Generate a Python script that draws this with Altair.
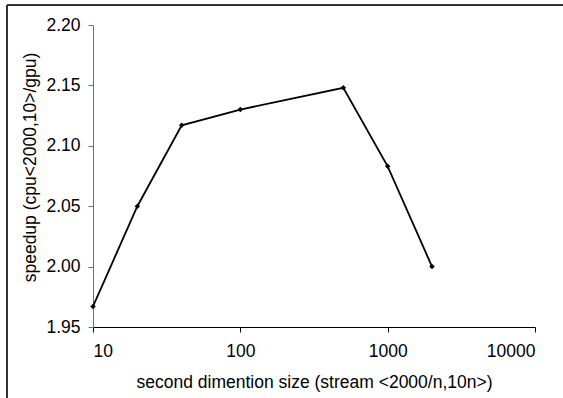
import altair as alt
import pandas as pd

sizes = [10, 20, 40, 100, 500, 1000, 2000]
speedup = [1.967, 2.050, 2.117, 2.130, 2.148, 2.083, 2.000]
x_ticks = [10, 100, 1000, 10000]
y_ticks = [1.95, 2.00, 2.05, 2.10, 2.15, 2.20]

df = pd.DataFrame({"size": sizes, "speedup": speedup})
FONT = "Liberation Sans"

x_enc = alt.X(
    "size:Q",
    scale=alt.Scale(type="log", domain=[10, 10000], nice=False),
    axis=alt.Axis(
        title="second dimention size (stream <2000/n,10n>)",
        values=x_ticks, format="d", grid=False,
        domainColor="#000000", tickColor="#000000", tickSize=5,
        labelPadding=10, labelFontSize=17.5, labelColor="#000000", labelFont=FONT,
        titleFontSize=17.5, titleFontWeight="normal", titleFont=FONT, titleColor="#000000",
        titleY=55, titleBaseline="middle",
    ),
)
y_enc = alt.Y(
    "speedup:Q",
    scale=alt.Scale(domain=[1.95, 2.20], nice=False, zero=False),
    axis=alt.Axis(
        title="speedup (cpu<2000,10>/gpu)",
        values=y_ticks, format=".2f", grid=False,
        domainColor="#707070", tickColor="#707070", tickSize=5,
        labelPadding=8, labelFontSize=17.5, labelColor="#000000", labelFont=FONT,
        titleFontSize=17.5, titleFontWeight="normal", titleFont=FONT, titleColor="#000000",
        titleAngle=270, titleX=-63, titleY=142, titleAlign="center", titleBaseline="middle",
    ),
)

line = alt.Chart(df).mark_line(color="#000000", strokeWidth=1.8).encode(x=x_enc, y=y_enc)
pts = alt.Chart(df).mark_point(shape="diamond", filled=True, color="#000000", size=30, opacity=1).encode(
    x="size:Q", y="speedup:Q"
)

frame_left = alt.Chart(df).mark_rule(color="#333333", strokeWidth=2).encode(
    x=alt.value(-86), y=alt.value(-20), y2=alt.value(373)
)
frame_top = alt.Chart(df).mark_rule(color="#333333", strokeWidth=2).encode(
    x=alt.value(-86), x2=alt.value(470), y=alt.value(-20)
)

chart = (
    alt.layer(line, pts, frame_left, frame_top)
    .properties(
        width=442, height=302,
        padding={"left": 93, "top": 25, "right": 28, "bottom": 71},
        autosize=alt.AutoSizeParams(type="none"),
        background="#ffffff",
    )
    .configure_view(stroke=None)
)

chart.save("out.html", embed_options={"renderer": "svg", "actions": False})
